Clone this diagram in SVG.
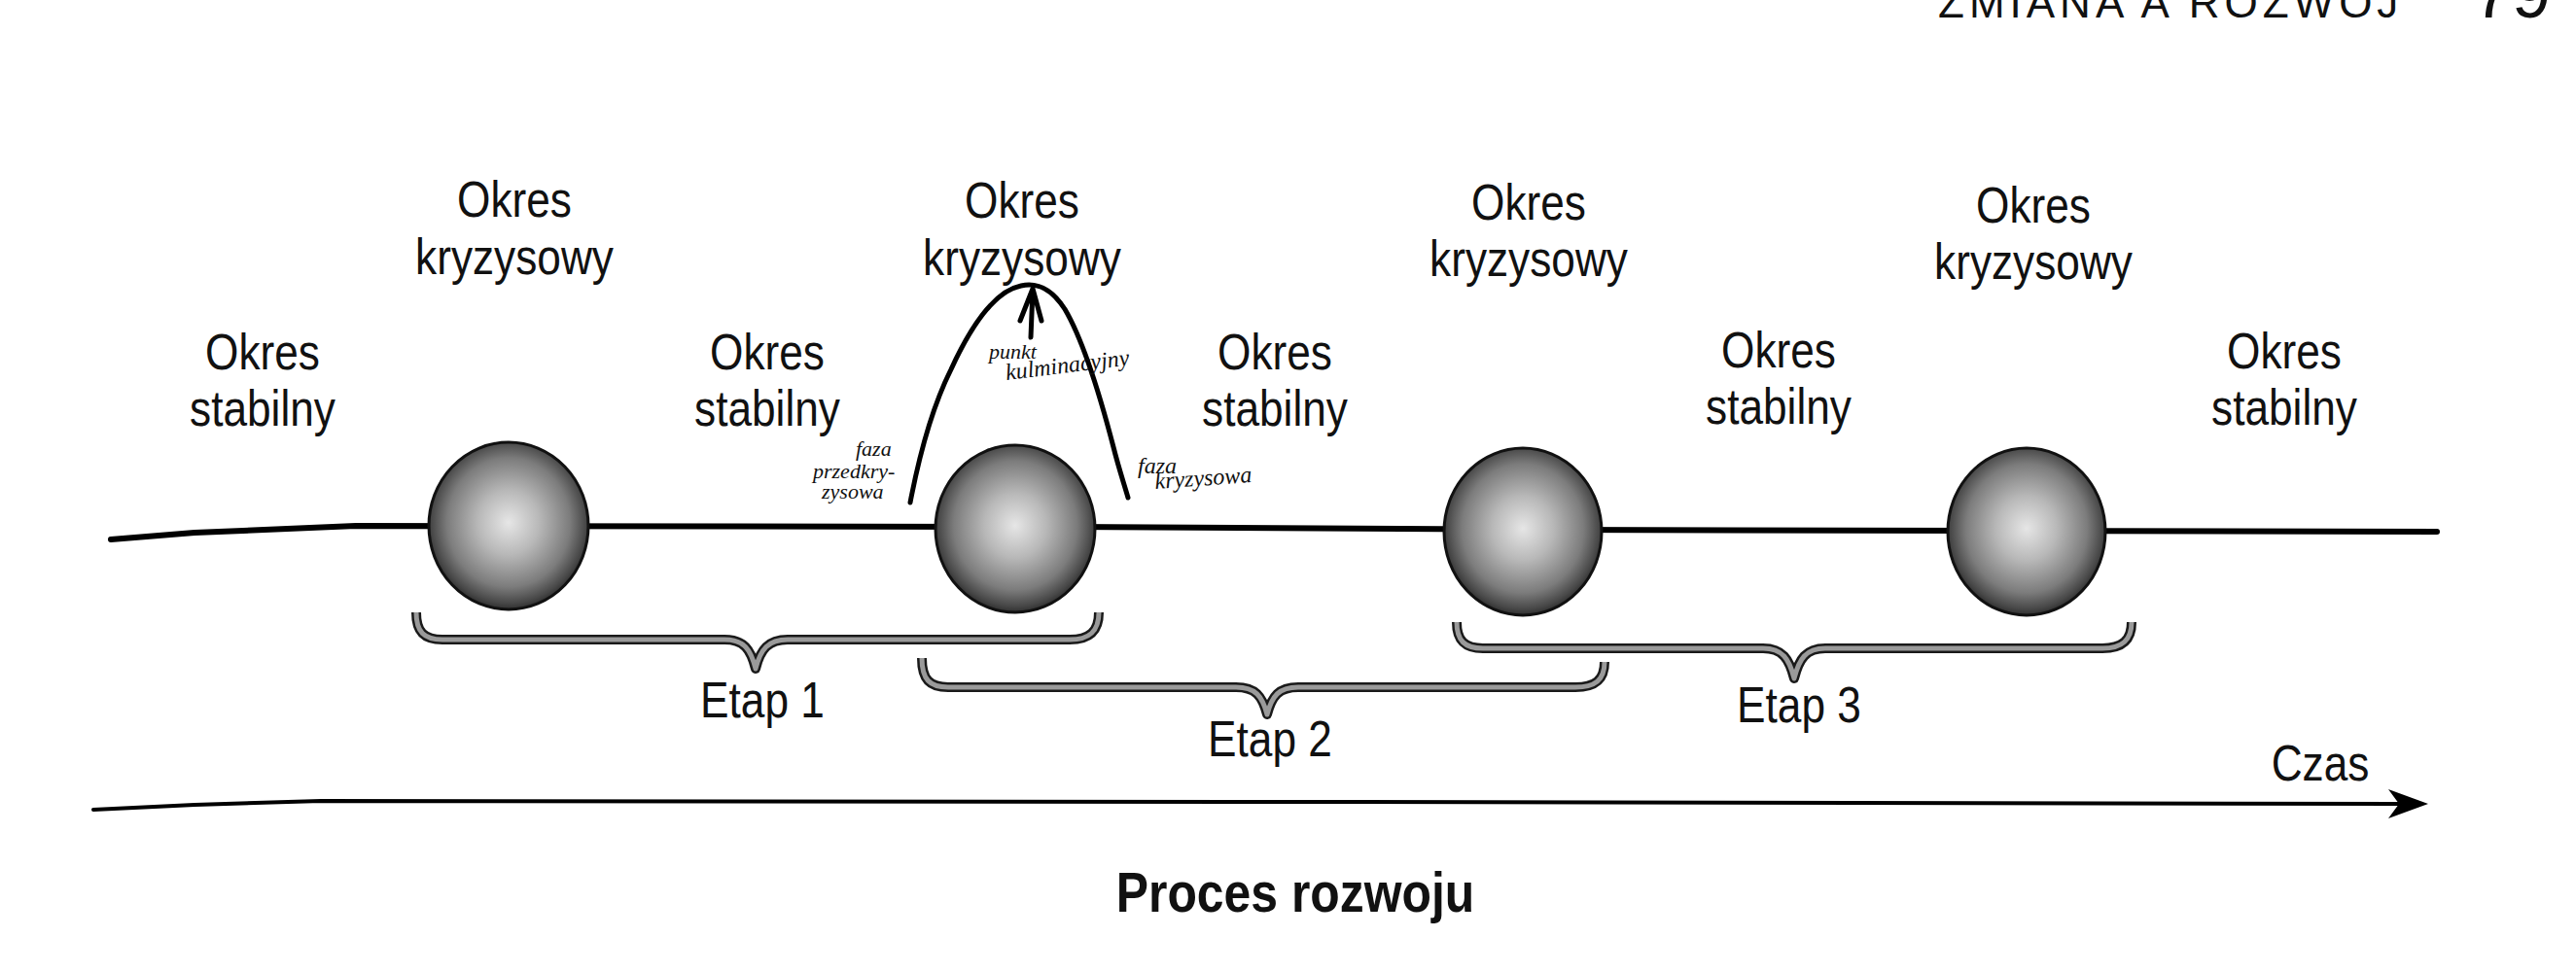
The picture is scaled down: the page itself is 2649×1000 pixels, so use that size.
<svg xmlns="http://www.w3.org/2000/svg" width="2649" height="1000" viewBox="0 0 2649 1000">
<style>
.lbl{font-family:"Liberation Sans",Arial,sans-serif;font-size:52px;fill:#111;text-anchor:middle}
.ttl{font-family:"Liberation Sans",Arial,sans-serif;font-size:58px;font-weight:bold;fill:#111;text-anchor:middle}
.hdr{font-family:"Liberation Sans",Arial,sans-serif;font-size:44px;fill:#111;letter-spacing:5px}
.hand{font-family:"Liberation Serif",serif;font-style:italic;font-size:24px;fill:#111}
.line{fill:none;stroke:#000;stroke-linecap:round;stroke-linejoin:round}
.braceO{fill:none;stroke:#1a1a1a;stroke-width:10;stroke-linecap:butt;stroke-linejoin:round}
.braceI{fill:none;stroke:#9a9a9a;stroke-width:5;stroke-linecap:butt;stroke-linejoin:round}
.sph{fill:url(#sg);stroke:#111;stroke-width:3}
</style>
<defs>
<radialGradient id="sg" cx="50%" cy="48%" r="55%">
<stop offset="0" stop-color="#e6e6e6"/>
<stop offset="0.35" stop-color="#b8b8b8"/>
<stop offset="0.7" stop-color="#7c7c7c"/>
<stop offset="0.88" stop-color="#474747"/>
<stop offset="1" stop-color="#1a1a1a"/>
</radialGradient>
</defs>
<rect width="2649" height="1000" fill="#fff"/>

<g id="header">
<text class="hdr" x="1993" y="18">ZMIANA A ROZWÓJ</text>
<text x="2543" y="18" style="font-family:'Liberation Sans',Arial,sans-serif;font-size:72px;fill:#111">79</text>
</g>

<g id="connectors">
<path id="timeline" class="line" stroke-width="6" d="M114,555 L200,548 L366,541 L1100,542 L1600,545 L2506,547"/>
<path id="brace1o" class="braceO" d="M428,630 C428,650 436,658 455,658 L745,658 C765,658 772,668 777,688 C782,668 790,658 810,658 L1100,658 C1120,658 1130,650 1130,630"/>
<path id="brace1i" class="braceI" d="M428,630 C428,650 436,658 455,658 L745,658 C765,658 772,668 777,688 C782,668 790,658 810,658 L1100,658 C1120,658 1130,650 1130,630"/>
<path id="brace2o" class="braceO" d="M948,677 C948,699 956,707 975,707 L1271,707 C1291,707 1298,716 1303,735 C1308,716 1315,707 1335,707 L1620,707 C1640,707 1650,700 1650,681"/>
<path id="brace2i" class="braceI" d="M948,677 C948,699 956,707 975,707 L1271,707 C1291,707 1298,716 1303,735 C1308,716 1315,707 1335,707 L1620,707 C1640,707 1650,700 1650,681"/>
<path id="brace3o" class="braceO" d="M1498,640 C1498,659 1506,667 1525,667 L1813,667 C1833,667 1840,678 1845,698 C1850,678 1857,667 1877,667 L2162,667 C2182,667 2192,659 2192,640"/>
<path id="brace3i" class="braceI" d="M1498,640 C1498,659 1506,667 1525,667 L1813,667 C1833,667 1840,678 1845,698 C1850,678 1857,667 1877,667 L2162,667 C2182,667 2192,659 2192,640"/>
<path id="timeAxis" class="line" stroke-width="4" d="M96,833 L200,828 L330,824 L1400,825 L2466,827"/>
<polygon id="timeArrow" points="2497,827 2456,812 2467,827 2456,842" fill="#000"/>
<path id="crisisArc" class="line" stroke-width="5" d="M936,517 C945,470 958,420 978,380 C995,343 1020,300 1050,294 C1068,290 1082,298 1095,318 C1115,352 1132,410 1145,460 C1150,480 1155,495 1160,512"/>
<path id="peakArrow" class="line" stroke-width="5" d="M1060,347 L1062,298 M1049,330 L1062,297 L1071,330"/>
</g>

<g id="sphere1"><ellipse class="sph" cx="523" cy="541" rx="82" ry="86"/></g>
<g id="sphere2"><ellipse class="sph" cx="1044" cy="544" rx="82" ry="86"/></g>
<g id="sphere3"><ellipse class="sph" cx="1566" cy="547" rx="81" ry="86"/></g>
<g id="sphere4"><ellipse class="sph" cx="2084" cy="547" rx="81" ry="86"/></g>

<g id="stab1" transform="translate(270 0) scale(0.85 1)"><text class="lbl" x="0" y="380">Okres</text><text class="lbl" x="0" y="438">stabilny</text></g>
<g id="kryz1" transform="translate(529 0) scale(0.85 1)"><text class="lbl" x="0" y="223">Okres</text><text class="lbl" x="0" y="282">kryzysowy</text></g>
<g id="stab2" transform="translate(789 0) scale(0.85 1)"><text class="lbl" x="0" y="380">Okres</text><text class="lbl" x="0" y="438">stabilny</text></g>
<g id="kryz2" transform="translate(1051 0) scale(0.85 1)"><text class="lbl" x="0" y="224">Okres</text><text class="lbl" x="0" y="283">kryzysowy</text></g>
<g id="stab3" transform="translate(1311 0) scale(0.85 1)"><text class="lbl" x="0" y="380">Okres</text><text class="lbl" x="0" y="438">stabilny</text></g>
<g id="kryz3" transform="translate(1572 0) scale(0.85 1)"><text class="lbl" x="0" y="226">Okres</text><text class="lbl" x="0" y="284">kryzysowy</text></g>
<g id="stab4" transform="translate(1829 0) scale(0.85 1)"><text class="lbl" x="0" y="378">Okres</text><text class="lbl" x="0" y="436">stabilny</text></g>
<g id="kryz4" transform="translate(2091 0) scale(0.85 1)"><text class="lbl" x="0" y="229">Okres</text><text class="lbl" x="0" y="287">kryzysowy</text></g>
<g id="stab5" transform="translate(2349 0) scale(0.85 1)"><text class="lbl" x="0" y="379">Okres</text><text class="lbl" x="0" y="437">stabilny</text></g>

<g id="etap1" transform="translate(784 0) scale(0.85 1)"><text class="lbl" x="0" y="738">Etap 1</text></g>
<g id="etap2" transform="translate(1306 0) scale(0.85 1)"><text class="lbl" x="0" y="778">Etap 2</text></g>
<g id="etap3" transform="translate(1850 0) scale(0.85 1)"><text class="lbl" x="0" y="743">Etap 3</text></g>
<g id="czas" transform="translate(2386 0) scale(0.85 1)"><text class="lbl" x="0" y="803">Czas</text></g>
<g id="title" transform="translate(1332 0) scale(0.86 1)"><text class="ttl" x="0" y="938">Proces rozwoju</text></g>

<g id="noteLeft">
<text class="hand" x="880" y="469" style="font-size:22px">faza</text>
<text class="hand" x="836" y="492" style="font-size:22px">przedkry-</text>
<text class="hand" x="845" y="513" style="font-size:22px">zysowa</text>
</g>
<g id="notePeak">
<text class="hand" x="1017" y="369" style="font-size:22px">punkt</text>
<text class="hand" x="1035" y="391" transform="rotate(-7 1035 391)">kulminacyjny</text>
</g>
<g id="noteRight">
<text class="hand" x="1170" y="487">faza</text>
<text class="hand" x="1188" y="503" transform="rotate(-4 1188 503)">kryzysowa</text>
</g>
</svg>
